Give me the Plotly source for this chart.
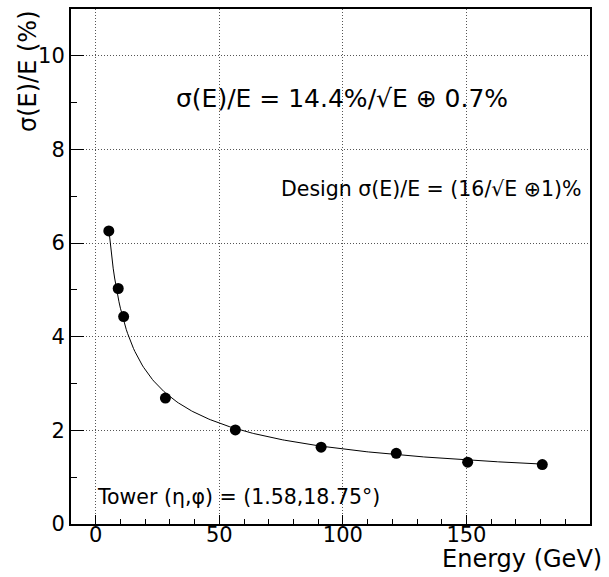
import numpy as np
import plotly.graph_objects as go

# Measured points
energy = [5.3, 9.1, 11.3, 28.2, 56.5, 91.2, 121.6, 150.5, 180.7]
resolution = [6.26, 5.03, 4.43, 2.69, 2.01, 1.64, 1.51, 1.32, 1.27]

# Fit parameters (from the label)
stoch_term = 14.4
const_term = 0.7

x_ticks = [0, 50, 100, 150, 200]
y_ticks = [0, 2, 4, 6, 8, 10]

FONT = "DejaVu Sans, sans-serif"

W, H = 609, 577
ML, MR, MT, MB = 71, 19, 7, 53
PW, PH = W - ML - MR, H - MT - MB

e_fit = np.linspace(min(energy), max(energy), 300)
r_fit = np.sqrt(stoch_term**2 / e_fit + const_term**2)

fig = go.Figure()
fig.add_trace(go.Scatter(x=e_fit, y=r_fit, mode="lines",
                         line=dict(color="black", width=1), hoverinfo="skip",
                         showlegend=False))
fig.add_trace(go.Scatter(x=energy, y=resolution, mode="markers",
                         marker=dict(color="black", size=11, line=dict(width=0)),
                         showlegend=False))

grid_dash = "1px,2px"
fig.update_layout(
    width=W, height=H,
    margin=dict(l=ML, r=MR, t=MT, b=MB),
    paper_bgcolor="white", plot_bgcolor="white",
    font=dict(family=FONT, color="black"),
    xaxis=dict(range=[-10, 200], tickvals=x_ticks, ticktext=[str(v) for v in x_ticks],
               ticks="inside", ticklen=9, tickwidth=1, tickcolor="black",
               showline=True, linecolor="black", linewidth=2, mirror=True,
               showgrid=True, gridcolor="#555", griddash=grid_dash, gridwidth=1,
               zeroline=False, tickfont=dict(size=21, family=FONT),
               ticklabelstandoff=-9,
               minor=dict(dtick=10, tick0=0, ticks="inside", ticklen=5,
                          tickcolor="black", showgrid=False)),
    yaxis=dict(range=[0, 11], tickvals=y_ticks, ticktext=[str(v) for v in y_ticks],
               ticks="inside", ticklen=13, tickwidth=1, tickcolor="black",
               showline=True, linecolor="black", linewidth=2, mirror=True,
               showgrid=True, gridcolor="#555", griddash=grid_dash, gridwidth=1,
               zeroline=False, tickfont=dict(size=21, family=FONT),
               minor=dict(dtick=1, tick0=0, ticks="inside", ticklen=6,
                          tickcolor="black", showgrid=False)),
)

# positions given in pixels of the full figure, converted to plot-area paper coords
annotations = [
    dict(text="σ(E)/E = 14.4%/√E ⊕ 0.7%", px=342, py=97, xanchor="center",
         yanchor="middle", size=25),
    dict(text="Design σ(E)/E = (16/√E ⊕1)%", px=584, py=188, xanchor="right",
         yanchor="middle", size=20.5),
    dict(text="Tower (η,φ) = (1.58,18.75°)", px=95, py=497, xanchor="left",
         yanchor="middle", size=20.5),
    dict(text="Energy (GeV)", px=604, py=559, xanchor="right",
         yanchor="middle", size=24),
    dict(text="σ(E)/E (%)", px=28, py=6, xanchor="center", yanchor="top",
         textangle=-90, size=24),
]
for a in annotations:
    fig.add_annotation(xref="paper", yref="paper", showarrow=False,
                       x=(a["px"] - ML) / PW, y=(H - MB - a["py"]) / PH,
                       text=a["text"], xanchor=a["xanchor"], yanchor=a["yanchor"],
                       textangle=a.get("textangle", 0),
                       font=dict(family=FONT, color="black", size=a["size"]))

fig.write_html("out.html")
